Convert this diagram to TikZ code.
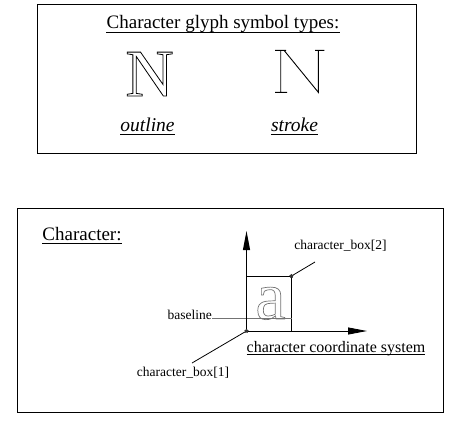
\documentclass[tikz,border=0pt]{standalone}
\usepackage{fontspec}
\setmainfont{Liberation Serif}
\usetikzlibrary{arrows.meta,shapes.geometric}

% outlined glyphs (stroke only), xdvipdfmx specials
\newcommand{\outlinetext}[2][0.5]{\special{pdf:literal direct #1 w 1 Tr}#2\special{pdf:literal direct 0 Tr}}
\newcommand{\fsz}[1]{\fontsize{#1}{#1}\selectfont}

\tikzset{
  frame/.style={draw=black, line width=0.9pt},
  lbl/.style={inner sep=0pt, anchor=base},
  axis/.style={line width=0.9pt, -{Triangle[length=19pt,width=7pt]}},
  leader/.style={line width=0.8pt},
  cornermark/.style={star, star points=5, fill=black!80, inner sep=0pt, minimum size=4.5pt},
}

\begin{document}
\begin{tikzpicture}[x=1pt,y=-1pt]
\useasboundingbox (0,0) rectangle (457,423);
% top panel
\draw[frame] (37,4) rectangle (416,153);
\node[lbl, font=\fsz{19}] (title) at (223,28) {Character glyph symbol types:};
\draw[line width=0.8pt] ([yshift=-4pt]title.base west) -- ([yshift=-4pt]title.base east);
\node[lbl, font=\fsz{67}] (nout) at (149.5,96) {\outlinetext[0.8]{N}};
% stroke N
\draw[line width=0.9pt] (275,50.3) -- (286,50.3)
  (280.7,50.3) -- (280.7,92.3)  (275,92.3) -- (287,92.3)
  (284,50.3) -- (318.3,92.3) -- (318.3,50.3)  (315,50.3) -- (324.3,50.3);
\node[lbl, font=\fsz{19.5}\itshape] (tout) at (147.5,131) {outline};
\draw[line width=0.8pt] ([yshift=-3pt]tout.base west) -- ([yshift=-3pt]tout.base east);
\node[lbl, font=\fsz{19.5}\itshape] (tstr) at (294.5,131) {stroke};
\draw[line width=0.8pt] ([yshift=-3pt]tstr.base west) -- ([yshift=-3pt]tstr.base east);

% bottom panel
\draw[frame] (17,208) rectangle (443,412);
\node[lbl, font=\fsz{19}] (chr) at (82,240) {Character:};
\draw[line width=0.8pt] ([yshift=-3.5pt]chr.base west) -- ([yshift=-3.5pt]chr.base east);
\coordinate (o) at (246.5,331);
\coordinate (ytip) at (246.5,231);
\coordinate (xtip) at (367,331);
\coordinate (ur) at (291.5,276);
\draw[line width=0.9pt] (o) rectangle (ur);
\node[lbl, font=\fsz{68}, text=black!55] (glyph) at (270.5,319) {\outlinetext[0.7]{a}};
\draw[line width=1.4pt, black!55] (212,318.5) -- (291.5,318.5);
\draw[axis] (o) -- (ytip);
\draw[axis] (o) -- (xtip);
\node[cornermark] (m1) at (o) {};
\node[cornermark] (m2) at (ur) {};
\node[lbl, font=\fsz{13.5}, anchor=base east] (bl) at (212,319) {baseline};
\node[lbl, font=\fsz{13.5}] (cb2) at (340.5,249) {character\_box[2]};
\node[lbl, font=\fsz{13.5}] (cb1) at (183,376.5) {character\_box[1]};
\coordinate (l2) at (315,262);
\coordinate (l1) at (192,363);
\draw[leader] (l2) -- (m2);
\draw[leader] (l1) -- (m1);
\node[lbl, font=\fsz{16}, anchor=base west] (ccs) at (246.5,352.5) {character coordinate system};
\draw[line width=0.8pt] ([yshift=-1.5pt]ccs.base west) -- ([yshift=-1.5pt]ccs.base east);
\end{tikzpicture}
\end{document}
